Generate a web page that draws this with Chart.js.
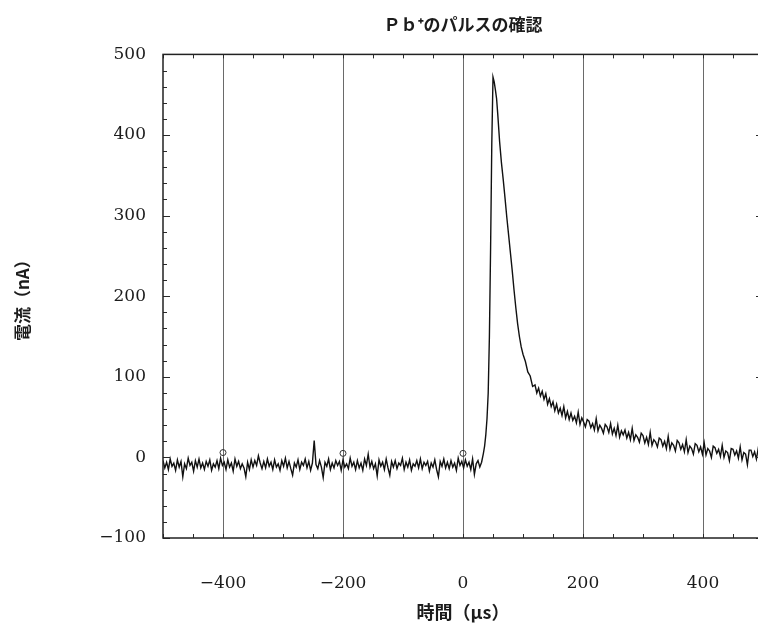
<!DOCTYPE html>
<html>
<head>
<meta charset="utf-8">
<script src="https://cdn.jsdelivr.net/npm/chart.js@4"></script>
<style>
  html, body { margin: 0; padding: 0; background: #fff; overflow: hidden; }
  #wrap { width: 798px; height: 629px; position: relative; }
</style>
</head>
<body>
<div id="wrap"><canvas id="c"></canvas></div>
<script>
// ---- data ----
const chartTitle = 'Ｐｂ⁺のパルスの確認';
const xTitle = '時間（μs）';
const yTitle = '電流（nA）';
const xTicks = [-400, -200, 0, 200, 400];
const yTicks = [-100, 0, 100, 200, 300, 400, 500];

// baseline before the pulse: t = -500 ... 31 µs, every 3 µs
const baseStart = -500, baseStep = 3;
const baseCurrent = [
  -4,-13,-6,-15,-2,-11,-7,-16,-3,-12,
  -5,-24,-8,-14,-1,-10,-6,-17,-4,-12,
  -2,-13,-7,-15,-5,-11,-3,-16,-8,-12,
  -4,-14,-1,-10,-6,-15,-3,-12,-7,-17,
  -2,-11,-5,-14,-8,-13,-24,-6,-15,-3,
  -12,-4,-10,2,-7,-14,-5,-13,-2,-11,
  -6,-15,-3,-12,-8,-16,-4,-11,-1,-13,
  -5,-14,-22,-7,-12,-3,-15,-6,-10,-2,
  -13,-5,-16,-7,21,-9,-14,-4,-12,-25,
  -6,-11,-2,-15,-7,-13,-4,-10,-5,-16,
  -3,-12,-8,-14,-1,-11,-6,-15,-4,-13,
  -7,-16,-2,-10,4,-12,-5,-14,-8,-23,
  -3,-11,-6,-15,-2,-13,-22,-5,-12,-4,
  -14,-7,-10,-1,-15,-6,-12,-3,-16,-8,
  -11,-4,-13,-2,-14,-6,-10,-5,-17,-7,
  -12,-3,-15,-24,-5,-11,-2,-13,-6,-14,
  -4,-12,-7,-16,-1,-10,-5,-13,-3,-11,
  -6,-15,-2,-21,-8,-4,-12,-6
];

// the pulse itself
const pulseTime = [34,36,38,40,42,44,46,48,50,52,54,56,58,
                   61,64,67,70,73,76,79,82,85,88,91,94,97,100,
                   104,108,112,116];
const pulseCurrent = [5,14,28,48,80,150,260,390,472,466,456,445,425,
                      392,366,345,322,298,276,254,232,208,186,166,150,137,128,
                      119,106,101,88];

// decaying tail: t = 120 ... 498 µs, every 3 µs
const tailStart = 120, tailStep = 3;
const tailCurrent = [
  90,80,86,76,82,72,79,66,73,63,
  69,58,66,55,61,52,63,49,57,47,
  55,46,51,43,56,41,49,44,38,47,
  45,37,42,34,48,33,40,36,30,41,
  38,31,42,29,36,27,40,25,33,28,
  34,24,31,22,36,21,28,25,19,30,
  27,18,25,16,31,15,22,19,13,24,
  22,14,20,11,26,10,18,15,8,21,
  18,10,16,7,22,6,14,11,4,17,
  15,7,13,4,18,3,11,8,0,14,
  12,5,10,1,15,0,8,6,-4,11,
  10,3,8,-1,13,-3,6,4,-9,9,
  9,1,7,-2,11,-5,6
];

// small circle marks on the baseline
const markTime = [-400, -200, 0];
const markCurrent = [6, 5, 5];

// ---- build series ----
const signal = [
  ...baseCurrent.map((v, i) => ({ x: baseStart + i * baseStep, y: v })),
  ...pulseTime.map((t, i) => ({ x: t, y: pulseCurrent[i] })),
  ...tailCurrent.map((v, i) => ({ x: tailStart + i * tailStep, y: v }))
];
const marks = markTime.map((t, i) => ({ x: t, y: markCurrent[i] }));

const fmt = v => (v < 0 ? '\u2212' + Math.abs(v) : String(v));
const ink = '#1c1c1c';

const frameTicks = {
  id: 'frameTicks',
  afterDatasetsDraw(chart) {
    const { ctx, chartArea: a, scales: { x, y } } = chart;
    ctx.save();
    ctx.strokeStyle = '#2a2a2a';
    ctx.lineWidth = 1;
    ctx.beginPath();
    x.ticks.forEach(t => {
      const px = Math.round(x.getPixelForValue(t.value)) + 0.5;
      const len = 4;
      ctx.moveTo(px, a.bottom); ctx.lineTo(px, a.bottom - len);
      ctx.moveTo(px, a.top); ctx.lineTo(px, a.top + len);
    });
    y.ticks.forEach(t => {
      const py = Math.round(y.getPixelForValue(t.value)) + 0.5;
      const len = (t.value % 100 === 0) ? 7 : 4;
      ctx.moveTo(a.left, py); ctx.lineTo(a.left + len, py);
      ctx.moveTo(a.right, py); ctx.lineTo(a.right - len, py);
    });
    ctx.stroke();
    ctx.lineWidth = 1.5;
    ctx.strokeStyle = '#222';
    ctx.strokeRect(a.left, a.top, a.right - a.left, a.bottom - a.top);
    ctx.restore();
  }
};

new Chart(document.getElementById('c'), {
  type: 'line',
  data: {
    datasets: [
      {
        data: signal,
        borderColor: '#111',
        borderWidth: 1.4,
        pointRadius: 0,
        tension: 0,
        fill: false
      },
      {
        data: marks,
        showLine: false,
        pointStyle: 'circle',
        pointRadius: 3,
        pointBorderWidth: 1,
        pointBorderColor: '#333',
        pointBackgroundColor: 'rgba(0,0,0,0)'
      }
    ]
  },
  options: {
    responsive: true,
    maintainAspectRatio: false,
    animation: false,
    devicePixelRatio: 1,
    layout: { padding: { left: 0, right: 0, top: 0, bottom: 0 } },
    plugins: {
      legend: { display: false },
      tooltip: { enabled: false },
      title: {
        display: true,
        text: chartTitle,
        fullSize: false,
        color: ink,
        font: { family: '"Noto Sans CJK JP", sans-serif', size: 17, weight: 'bold' },
        padding: { top: 14, bottom: 20 }
      }
    },
    scales: {
      x: {
        type: 'linear',
        min: -500,
        max: 500,
        afterFit: s => { s.height = 91; },
        border: { display: false },
        grid: {
          drawTicks: false,
          lineWidth: 1,
          color: c => (c.tick && xTicks.includes(c.tick.value)) ? '#6a6a6a' : 'rgba(0,0,0,0)'
        },
        ticks: {
          stepSize: 50,
          autoSkip: false,
          maxRotation: 0,
          padding: 35,
          color: ink,
          font: { family: '"DejaVu Serif", serif', size: 17 },
          callback: v => (xTicks.includes(v) ? fmt(v) : '')
        },
        title: {
          display: true,
          text: xTitle,
          color: ink,
          font: { family: '"Noto Sans CJK JP", sans-serif', size: 18, weight: 'bold' },
          padding: { top: 8, bottom: 6 }
        }
      },
      y: {
        type: 'linear',
        min: -100,
        max: 500,
        afterFit: s => { s.width = 163; },
        border: { display: false },
        grid: { display: false, drawTicks: false },
        ticks: {
          stepSize: 20,
          autoSkip: false,
          padding: 17,
          color: ink,
          font: { family: '"DejaVu Serif", serif', size: 17 },
          callback: v => (yTicks.includes(v) ? fmt(v) : '')
        },
        title: {
          display: true,
          text: yTitle,
          color: ink,
          font: { family: '"Noto Sans CJK JP", sans-serif', size: 17, weight: 'bold' },
          padding: { top: 12, bottom: 4 }
        }
      }
    }
  },
  plugins: [frameTicks]
});
</script>
</body>
</html>
